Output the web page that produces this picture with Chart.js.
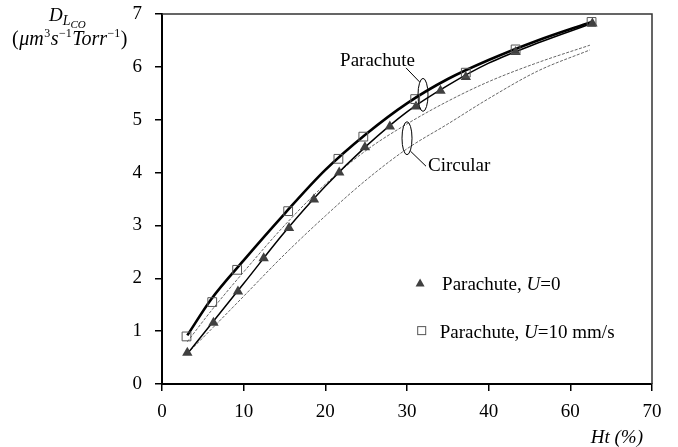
<!DOCTYPE html>
<html>
<head>
<meta charset="utf-8">
<script src="https://cdn.jsdelivr.net/npm/chart.js@4.4.1/dist/chart.umd.min.js"></script>
<style>
  html, body { margin: 0; padding: 0; background: #fff; }
  #wrap { width: 678px; height: 447px; position: relative; }
</style>
</head>
<body>
<div id="wrap"><canvas id="chart"></canvas></div>
<script>
// Tick labels along the haematocrit axis (as printed on the figure)
const xTickLabels = ['0', '10', '20', '30', '40', '60', '70'];
const yTickValues = [0, 1, 2, 3, 4, 5, 6, 7];

// Measured points, parachute cell, U = 0
const htU0   = [3.1, 6.3, 9.3, 12.45, 15.55, 18.6, 21.7, 24.85, 27.9, 31.1, 34.1, 37.2, 43.3, 52.7];
const dlcoU0 = [0.59, 1.16, 1.75, 2.38, 2.95, 3.49, 4.0, 4.48, 4.87, 5.25, 5.55, 5.81, 6.28, 6.82];

// Measured points, parachute cell, U = 10 mm/s
const htU10   = [3.0, 6.15, 9.2, 15.45, 21.6, 24.65, 31.0, 37.2, 43.3, 52.6];
const dlcoU10 = [0.9, 1.55, 2.16, 3.27, 4.26, 4.68, 5.39, 5.89, 6.33, 6.85];

// Fitted curves
const fitHt           = [3.1, 6, 10, 15, 20, 25, 30, 35, 40, 46, 52.6];
const fitParachuteU10 = [0.92, 1.6, 2.34, 3.22, 4.05, 4.73, 5.31, 5.77, 6.13, 6.5, 6.85];
const fitParachuteU0  = [0.57, 1.13, 1.9, 2.87, 3.74, 4.5, 5.15, 5.65, 6.07, 6.45, 6.82];
const circHt          = [3.1, 6, 10, 15, 20, 25, 30, 35, 40, 46, 52.4];
const fitCircularA    = [0.8, 1.38, 2.12, 3.0, 3.78, 4.42, 4.92, 5.35, 5.72, 6.08, 6.41];
const fitCircularB    = [0.58, 1.03, 1.66, 2.45, 3.18, 3.86, 4.45, 4.92, 5.4, 5.92, 6.32];

const FONT = '"Liberation Serif", "Times New Roman", serif';

function pts(xs, ys) { return xs.map((x, i) => ({ x: x, y: ys[i] })); }

// Text, ellipses, box edges and legend drawn on top of the plot
const decorations = {
  id: 'decorations',
  beforeDraw(chart) {
    const ctx = chart.ctx;
    ctx.save();
    ctx.fillStyle = '#fff';
    ctx.fillRect(0, 0, chart.width, chart.height);
    ctx.restore();
  },
  afterDraw(chart) {
    const ctx = chart.ctx;
    const xs = chart.scales.x, ys = chart.scales.y;
    const px = v => xs.getPixelForValue(v);
    const py = v => ys.getPixelForValue(v);
    const area = chart.chartArea;
    ctx.save();

    // top and right frame
    ctx.strokeStyle = '#333';
    ctx.lineWidth = 1.5;
    ctx.beginPath();
    ctx.moveTo(area.left, area.top);
    ctx.lineTo(area.right, area.top);
    ctx.lineTo(area.right, area.bottom);
    ctx.stroke();

    ctx.fillStyle = '#000';
    ctx.textBaseline = 'alphabetic';

    // y-axis title: D_{L_CO}
    let x = 49;
    ctx.font = 'italic 19px ' + FONT;
    ctx.fillText('D', x, 21); x += ctx.measureText('D').width;
    ctx.font = 'italic 14px ' + FONT;
    ctx.fillText('L', x, 25); x += ctx.measureText('L').width;
    ctx.font = 'italic 11px ' + FONT;
    ctx.fillText('CO', x, 28);

    // units line: (μm³s⁻¹Torr⁻¹)
    const parts = [
      ['(', '20px', 45], ['μm', 'italic 20px', 45], ['3', '12px', 37],
      ['s', 'italic 20px', 45], ['−1', '12px', 37], ['Torr', 'italic 20px', 45],
      ['−1', '12px', 37], [')', '20px', 45]
    ];
    x = 12;
    for (const [t, f, b] of parts) {
      ctx.font = f + ' ' + FONT;
      ctx.fillText(t, x, b);
      x += ctx.measureText(t).width + 0.5;
    }

    // x-axis title
    ctx.font = 'italic 19px ' + FONT;
    ctx.textAlign = 'right';
    ctx.fillText('Ht (%)', 643, 443);
    ctx.textAlign = 'left';

    // curve group labels
    ctx.strokeStyle = '#000';
    ctx.lineWidth = 1;
    const pe = { x: px(31.96), y: py(5.47) };
    ctx.beginPath();
    ctx.ellipse(pe.x, pe.y, 5, 16.5, 0, 0, Math.PI * 2);
    ctx.stroke();
    ctx.beginPath();
    ctx.moveTo(pe.x - 17, pe.y - 27);
    ctx.lineTo(pe.x - 3.5, pe.y - 13);
    ctx.stroke();
    ctx.font = '19px ' + FONT;
    ctx.textAlign = 'right';
    ctx.fillText('Parachute', pe.x - 8, pe.y - 29);

    const ce = { x: px(30.0), y: py(4.65) };
    ctx.beginPath();
    ctx.ellipse(ce.x, ce.y, 5, 16.5, 0, 0, Math.PI * 2);
    ctx.stroke();
    ctx.beginPath();
    ctx.moveTo(ce.x + 3.5, ce.y + 13);
    ctx.lineTo(ce.x + 19, ce.y + 28);
    ctx.stroke();
    ctx.textAlign = 'left';
    ctx.fillText('Circular', ce.x + 21, ce.y + 33);

    // legend
    const lt = { x: px(31.6), y: py(1.91) };
    ctx.fillStyle = '#404040';
    ctx.beginPath();
    ctx.moveTo(lt.x, lt.y - 4.5);
    ctx.lineTo(lt.x + 4.5, lt.y + 3.5);
    ctx.lineTo(lt.x - 4.5, lt.y + 3.5);
    ctx.closePath();
    ctx.fill();
    ctx.fillStyle = '#000';
    const legendText = (label, tx, ty) => {
      ctx.font = '19px ' + FONT;
      ctx.fillText(label, tx, ty); tx += ctx.measureText(label).width;
      ctx.font = 'italic 19px ' + FONT;
      ctx.fillText('U', tx, ty); tx += ctx.measureText('U').width;
      return tx;
    };
    let tx = legendText('Parachute, ', lt.x + 22, lt.y + 6.5);
    ctx.font = '19px ' + FONT;
    ctx.fillText('=0', tx, lt.y + 6.5);

    const ls = { x: px(31.8), y: py(1.01) };
    ctx.strokeStyle = '#555';
    ctx.lineWidth = 1;
    ctx.strokeRect(ls.x - 4, ls.y - 4, 8, 8);
    tx = legendText('Parachute, ', ls.x + 18, ls.y + 7);
    ctx.font = '19px ' + FONT;
    ctx.fillText('=10 mm/s', tx, ls.y + 7);

    ctx.restore();
  }
};

const lineBase = { showLine: true, pointRadius: 0, fill: false, tension: 0, cubicInterpolationMode: 'monotone' };

new Chart(document.getElementById('chart'), {
  type: 'scatter',
  data: {
    datasets: [
      { label: 'Parachute, U=10 mm/s', data: pts(htU10, dlcoU10), pointStyle: 'rect', pointRadius: 6.2,
        pointBorderColor: '#555', pointBackgroundColor: 'rgba(0,0,0,0)', pointBorderWidth: 1, order: 1 },
      { label: 'Parachute, U=0', data: pts(htU0, dlcoU0), pointStyle: 'triangle', pointRadius: 6,
        pointBorderColor: '#404040', pointBackgroundColor: '#404040', pointBorderWidth: 0, order: 2 },
      Object.assign({ label: 'Parachute fit, U=10', data: pts(fitHt, fitParachuteU10), borderColor: '#000', borderWidth: 2.6, order: 3 }, lineBase),
      Object.assign({ label: 'Parachute fit, U=0', data: pts(fitHt, fitParachuteU0), borderColor: '#000', borderWidth: 1.5, order: 4 }, lineBase),
      Object.assign({ label: 'Circular fit, U=10', data: pts(circHt, fitCircularA), borderColor: '#666', borderWidth: 1, borderDash: [3, 1.5], order: 5 }, lineBase),
      Object.assign({ label: 'Circular fit, U=0', data: pts(circHt, fitCircularB), borderColor: '#666', borderWidth: 1, borderDash: [3, 1.5], order: 6 }, lineBase)
    ]
  },
  options: {
    responsive: true,
    maintainAspectRatio: false,
    animation: false,
    events: [],
    layout: { padding: { top: 14, right: 26, left: 0, bottom: 0 } },
    plugins: { legend: { display: false }, tooltip: { enabled: false } },
    scales: {
      x: {
        type: 'linear', min: 0, max: 60,
        afterFit(s) { s.height = 63; s.paddingLeft = 0; s.paddingRight = 0; },
        afterBuildTicks(s) { s.ticks = xTickLabels.map((_, i) => ({ value: i * 10 })); },
        ticks: {
          callback: (v, i) => xTickLabels[i],
          font: { family: FONT, size: 19 }, color: '#000', padding: 10, maxRotation: 0, autoSkip: false
        },
        grid: { display: true, drawOnChartArea: false, drawTicks: true, tickLength: 7, color: '#000', lineWidth: 1.5 },
        border: { display: true, color: '#000', width: 2 }
      },
      y: {
        type: 'linear', min: 0, max: 7,
        afterFit(s) { s.width = 162; s.paddingTop = 0; s.paddingBottom = 0; },
        afterBuildTicks(s) { s.ticks = yTickValues.map(v => ({ value: v })); },
        ticks: { font: { family: FONT, size: 19 }, color: '#000', padding: 13 },
        grid: { display: true, drawOnChartArea: false, drawTicks: true, tickLength: 7, color: '#000', lineWidth: 1.5 },
        border: { display: true, color: '#000', width: 2 }
      }
    }
  },
  plugins: [decorations]
});
</script>
</body>
</html>
